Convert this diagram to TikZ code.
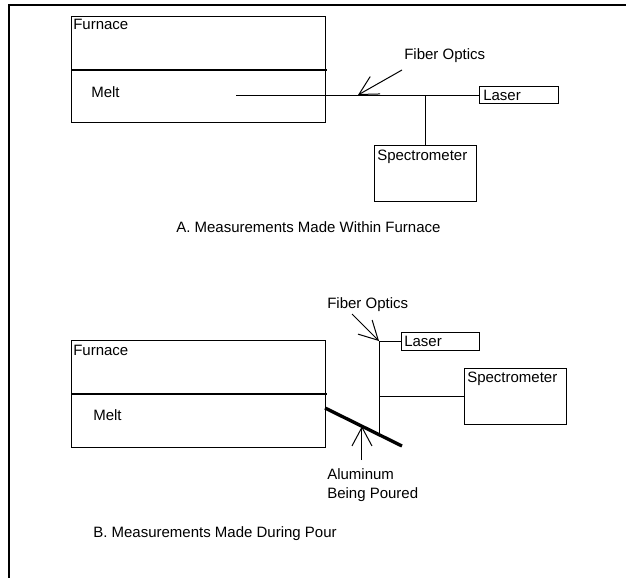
\documentclass[tikz,border=0pt]{standalone}
\usepackage{fontspec}
\setmainfont{Liberation Sans}
\usetikzlibrary{arrows.meta,calc}
\newcommand{\pxu}{0.75pt}
\tikzset{
  box/.style={draw, line width=0.75pt, inner sep=0pt, outer sep=0pt},
  txt/.style={inner sep=0pt, anchor=base west, font=\fontsize{11.25}{14.25}\selectfont},
  fiber/.style={line width=0.75pt},
  divide/.style={line width=2pt},
  pour/.style={line width=2.5pt},
  ptr/.style={line width=0.75pt, -{Straight Barb[length=14pt,width=15pt]}},
  frame/.style={line width=1.6pt},
}
\begin{document}
\begin{tikzpicture}[x=\pxu, y=-\pxu]
  \useasboundingbox (0,0) rectangle (626,578);
  \draw[frame] (9,578) -- (9,5) -- (626,5);
  % A. within furnace
  \node[box, minimum width=254*\pxu, minimum height=106*\pxu] (fa) at (198,69) {};
  \draw[divide] ($(fa.north west)+(0,54)$) -- ++(256,0);
  \node[txt] (fat) at (73,30) {Furnace};
  \node[txt] (mat) at (91,97) {Melt};
  \node[box, minimum width=79*\pxu, minimum height=17*\pxu] (la) at (518.5,95) {};
  \node[txt] (lat) at (483,100) {Laser};
  \node[box, minimum width=102*\pxu, minimum height=56*\pxu] (sa) at (425,173) {};
  \node[txt] (sat) at (377,160) {Spectrometer};
  \coordinate (fsa) at (236,95);
  \coordinate (ja) at (sa.north |- la.west);
  \draw[fiber] (fsa) -- (la.west);
  \draw[fiber] (ja) -- (sa.north);
  \node[txt] (foa) at (404,60) {Fiber Optics};
  \coordinate (tla) at (402,70);
  \coordinate (hda) at (358,95);
  \draw[ptr] (tla) -- (hda);
  \node[txt] (capa) at (176,232) {A. Measurements Made Within Furnace};
  % B. during pour
  \node[box, minimum width=254*\pxu, minimum height=107*\pxu] (fb) at (198,393.5) {};
  \draw[divide] ($(fb.north west)+(0,54)$) -- ++(256,0);
  \node[txt] (fbt) at (73,355) {Furnace};
  \node[txt] (mbt) at (93,420) {Melt};
  \coordinate (pb1) at (325,408);
  \coordinate (pb2) at (402,446);
  \draw[pour] (pb1) -- (pb2);
  \node[box, minimum width=78*\pxu, minimum height=18*\pxu] (lb) at (440,341) {};
  \node[txt] (lbt) at (404,346) {Laser};
  \node[box, minimum width=102*\pxu, minimum height=56*\pxu] (sb) at (515,396) {};
  \node[txt] (sbt) at (467,382) {Spectrometer};
  \coordinate (tipb) at (379,341);
  \coordinate (bot) at ($(pb1)!0.70!(pb2)$);
  \coordinate (jb) at (tipb |- sb.west);
  \draw[fiber] (tipb) -- (lb.west);
  \draw[fiber] (tipb) -- (tipb |- bot);
  \draw[fiber] (jb) -- (sb.west);
  \node[txt] (fob) at (327,308) {Fiber Optics};
  \coordinate (tlb) at (352,314);
  \draw[ptr] (tlb) -- (tipb);
  \coordinate (hdp) at ($(pb1)!0.48!(pb2)$);
  \coordinate (tlp) at (hdp |- 0,460);
  \draw[ptr] (tlp) -- (hdp);
  \node[txt, anchor=north west, align=left] (alt) at (327,468) {Aluminum\\Being Poured};
  \node[txt] (capb) at (93,537) {B. Measurements Made During Pour};
\end{tikzpicture}
\end{document}
